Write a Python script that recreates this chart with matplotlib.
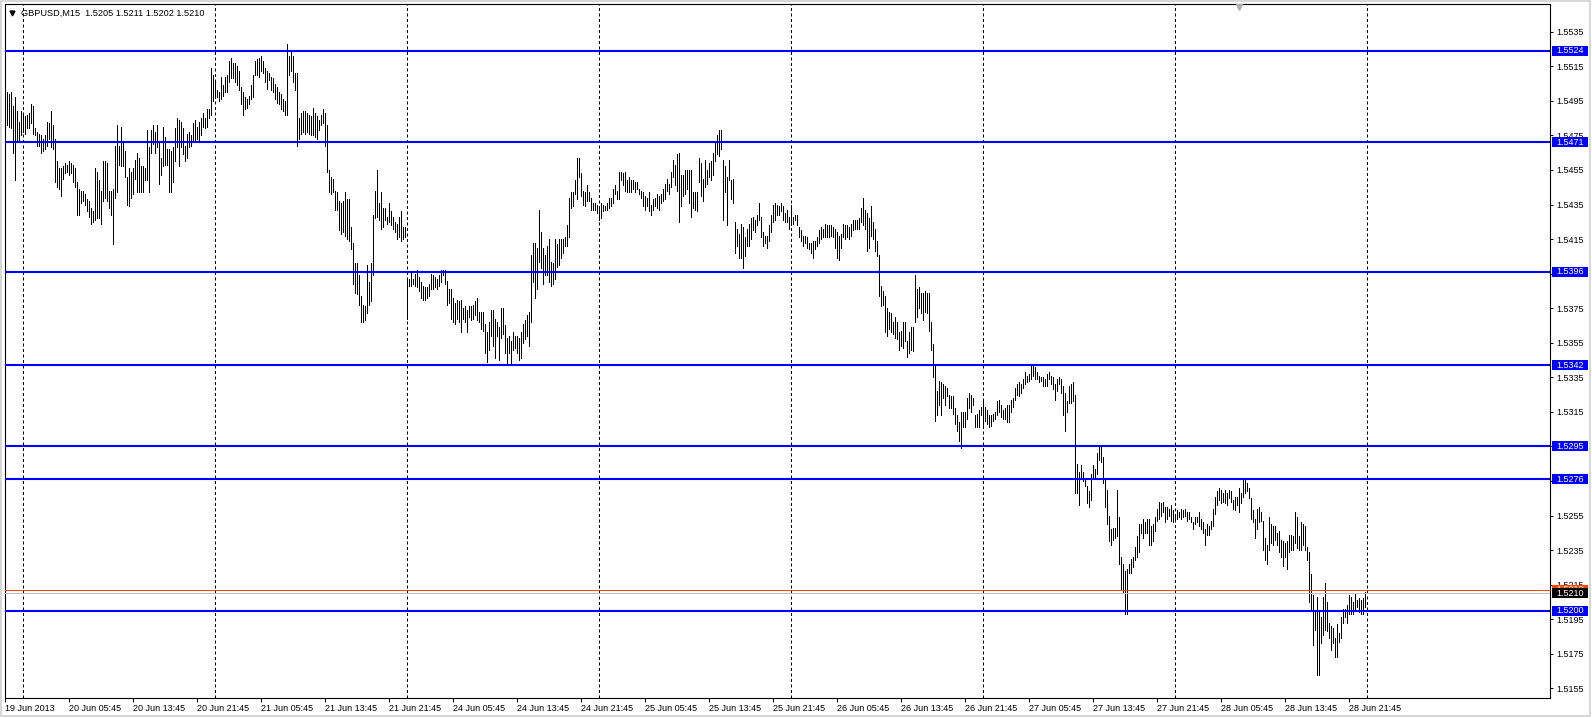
import matplotlib
matplotlib.use("Agg")
import matplotlib.pyplot as plt
from matplotlib.patches import Rectangle

# ---- GBPUSD M15 bars, high / low in pips above 1.5000 ----------------------
jun19_high = [5516, 5500, 5499, 5500, 5492, 5497, 5489, 5483, 5489]
jun19_low = [5479, 5481, 5480, 5479, 5465, 5449, 5472, 5472, 5475]

jun20_high = [
    5487, 5486, 5487, 5488, 5493, 5492, 5479, 5477, 5476, 5475, 5473, 5475,
    5483, 5482, 5489, 5481, 5473, 5460, 5456, 5456, 5457, 5459, 5458, 5460,
    5459, 5458, 5456, 5448, 5444, 5443, 5443, 5441, 5438, 5437, 5433, 5431,
    5456, 5454, 5449, 5443, 5460, 5460, 5459, 5443, 5443, 5444, 5469, 5481,
    5469, 5480, 5472, 5466, 5451, 5456, 5454, 5456, 5461, 5465, 5462, 5457,
    5457, 5456, 5478, 5468, 5478, 5481, 5477, 5481, 5472, 5462, 5480, 5474,
    5467, 5467, 5466, 5468, 5479, 5485, 5484, 5483, 5479, 5469, 5476, 5477,
    5475, 5482, 5484, 5480, 5483, 5485, 5488, 5485, 5490, 5490, 5514, 5510,
]
jun20_low = [
    5477, 5476, 5479, 5479, 5482, 5476, 5475, 5469, 5469, 5465, 5466, 5467,
    5469, 5473, 5468, 5467, 5448, 5445, 5444, 5440, 5450, 5453, 5454, 5452,
    5453, 5448, 5445, 5429, 5429, 5436, 5437, 5435, 5431, 5428, 5424, 5425,
    5426, 5427, 5427, 5424, 5437, 5439, 5437, 5433, 5429, 5412, 5439, 5442,
    5458, 5457, 5457, 5451, 5435, 5434, 5439, 5441, 5450, 5442, 5442, 5442,
    5442, 5449, 5449, 5442, 5465, 5470, 5465, 5468, 5447, 5452, 5457, 5458,
    5458, 5442, 5442, 5448, 5460, 5468, 5457, 5468, 5464, 5460, 5462, 5468,
    5469, 5471, 5472, 5473, 5471, 5475, 5480, 5479, 5480, 5485, 5487, 5495,
]

jun21_high = [
    5506, 5501, 5500, 5509, 5504, 5509, 5510, 5518, 5520, 5517, 5517, 5515,
    5512, 5503, 5500, 5497, 5496, 5498, 5504, 5510, 5518, 5519, 5520, 5521,
    5518, 5514, 5512, 5511, 5509, 5508, 5505, 5503, 5500, 5499, 5496, 5495,
    5528, 5521, 5524, 5521, 5511, 5511, 5485, 5488, 5489, 5489, 5488, 5487,
    5486, 5491, 5488, 5486, 5484, 5487, 5490, 5488, 5481, 5455, 5451, 5450,
    5443, 5442, 5437, 5436, 5437, 5442, 5438, 5438, 5422, 5413, 5401, 5401,
    5394, 5382, 5377, 5376, 5400, 5390, 5401, 5429, 5443, 5455, 5436, 5442,
    5433, 5433, 5428, 5436, 5431, 5428, 5425, 5424, 5428, 5431, 5422, 5422,
]
jun21_low = [
    5497, 5497, 5495, 5496, 5498, 5500, 5500, 5506, 5508, 5508, 5506, 5504,
    5501, 5493, 5487, 5490, 5491, 5493, 5496, 5497, 5510, 5510, 5509, 5512,
    5511, 5506, 5502, 5507, 5501, 5500, 5496, 5494, 5493, 5490, 5489, 5487,
    5487, 5510, 5512, 5506, 5501, 5469, 5473, 5476, 5477, 5476, 5477, 5476,
    5475, 5475, 5474, 5473, 5478, 5481, 5482, 5469, 5454, 5442, 5441, 5442,
    5432, 5432, 5420, 5418, 5419, 5417, 5415, 5414, 5409, 5389, 5384, 5383,
    5377, 5367, 5367, 5368, 5372, 5377, 5379, 5394, 5427, 5428, 5426, 5421,
    5422, 5426, 5424, 5425, 5423, 5421, 5419, 5415, 5416, 5414, 5415, 5416,
]

jun24_high = [
    5392, 5392, 5396, 5392, 5395, 5397, 5393, 5390, 5388, 5387, 5387, 5389,
    5395, 5394, 5393, 5392, 5394, 5397, 5397, 5397, 5391, 5386, 5386, 5381,
    5378, 5380, 5379, 5380, 5375, 5376, 5374, 5376, 5376, 5377, 5379, 5381,
    5373, 5373, 5373, 5366, 5361, 5367, 5374, 5374, 5369, 5367, 5364, 5375,
    5375, 5365, 5358, 5359, 5356, 5361, 5359, 5359, 5358, 5361, 5366, 5368,
    5371, 5373, 5406, 5413, 5413, 5410, 5432, 5419, 5410, 5406, 5411, 5415,
    5402, 5401, 5415, 5412, 5415, 5415, 5415, 5416, 5423, 5439, 5442, 5442,
    5449, 5462, 5462, 5453, 5443, 5442, 5446, 5442, 5439, 5436, 5436, 5435,
]
jun24_low = [
    5369, 5388, 5388, 5389, 5388, 5387, 5385, 5381, 5380, 5380, 5381, 5382,
    5386, 5386, 5387, 5386, 5388, 5390, 5394, 5389, 5377, 5378, 5369, 5367,
    5366, 5369, 5367, 5361, 5369, 5367, 5361, 5370, 5368, 5369, 5371, 5368,
    5367, 5363, 5362, 5349, 5344, 5351, 5359, 5353, 5346, 5359, 5345, 5358,
    5360, 5349, 5342, 5349, 5343, 5351, 5352, 5349, 5345, 5346, 5355, 5357,
    5359, 5353, 5367, 5390, 5381, 5386, 5402, 5398, 5389, 5394, 5394, 5390,
    5388, 5389, 5392, 5399, 5400, 5404, 5407, 5411, 5411, 5416, 5433, 5434,
    5441, 5438, 5451, 5440, 5435, 5434, 5437, 5437, 5432, 5432, 5432, 5430,
]

jun25_high = [
    5434, 5436, 5435, 5434, 5436, 5439, 5439, 5444, 5446, 5443, 5454, 5454,
    5453, 5454, 5449, 5451, 5449, 5449, 5448, 5448, 5444, 5443, 5442, 5440,
    5439, 5442, 5435, 5438, 5439, 5441, 5440, 5441, 5444, 5447, 5450, 5447,
    5454, 5461, 5458, 5464, 5465, 5452, 5452, 5455, 5455, 5455, 5455, 5442,
    5442, 5442, 5462, 5459, 5450, 5461, 5455, 5459, 5460, 5465, 5472, 5475,
    5478, 5478, 5461, 5457, 5451, 5461, 5449, 5450, 5425, 5421, 5418, 5424,
    5422, 5416, 5421, 5424, 5427, 5428, 5426, 5429, 5436, 5428, 5419, 5417,
    5417, 5423, 5429, 5435, 5436, 5435, 5434, 5436, 5434, 5430, 5432, 5428,
]
jun25_low = [
    5426, 5427, 5431, 5432, 5432, 5433, 5434, 5436, 5441, 5438, 5438, 5449,
    5446, 5443, 5442, 5442, 5442, 5444, 5442, 5444, 5441, 5439, 5434, 5432,
    5434, 5431, 5429, 5432, 5434, 5433, 5432, 5436, 5437, 5438, 5443, 5441,
    5445, 5451, 5446, 5443, 5425, 5434, 5440, 5441, 5444, 5436, 5428, 5433,
    5432, 5431, 5448, 5440, 5437, 5445, 5447, 5451, 5449, 5452, 5460, 5464,
    5463, 5467, 5426, 5442, 5423, 5449, 5438, 5436, 5407, 5411, 5404, 5404,
    5398, 5405, 5411, 5411, 5415, 5420, 5419, 5423, 5426, 5416, 5411, 5413,
    5410, 5414, 5419, 5425, 5426, 5429, 5429, 5431, 5426, 5425, 5425, 5421,
]

jun26_high = [
    5435, 5428, 5429, 5429, 5422, 5420, 5417, 5417, 5416, 5413, 5413, 5414,
    5414, 5416, 5420, 5422, 5421, 5424, 5423, 5423, 5423, 5422, 5421, 5419,
    5417, 5418, 5424, 5423, 5423, 5422, 5424, 5426, 5426, 5426, 5427, 5433,
    5439, 5432, 5430, 5427, 5434, 5425, 5421, 5414, 5406, 5388, 5385, 5382,
    5375, 5373, 5372, 5367, 5370, 5367, 5361, 5362, 5367, 5367, 5356, 5361,
    5364, 5364, 5394, 5386, 5387, 5384, 5384, 5385, 5384, 5384, 5367, 5354,
    5342, 5327, 5333, 5332, 5331, 5330, 5329, 5325, 5324, 5324, 5317, 5313,
    5309, 5315, 5315, 5315, 5323, 5326, 5325, 5323, 5313, 5314, 5316, 5318,
]
jun26_low = [
    5423, 5424, 5426, 5423, 5416, 5414, 5411, 5413, 5410, 5409, 5407, 5404,
    5409, 5411, 5413, 5415, 5416, 5416, 5416, 5416, 5417, 5416, 5410, 5404,
    5403, 5410, 5416, 5415, 5416, 5415, 5417, 5420, 5421, 5421, 5421, 5425,
    5423, 5421, 5408, 5410, 5417, 5415, 5408, 5405, 5382, 5376, 5377, 5361,
    5359, 5363, 5361, 5360, 5358, 5357, 5351, 5353, 5352, 5356, 5347, 5349,
    5351, 5350, 5367, 5370, 5375, 5372, 5368, 5373, 5372, 5362, 5351, 5335,
    5310, 5313, 5319, 5313, 5323, 5319, 5324, 5317, 5317, 5314, 5308, 5304,
    5298, 5294, 5306, 5306, 5311, 5317, 5315, 5319, 5306, 5306, 5306, 5313,
]

jun27_high = [
    5322, 5318, 5316, 5313, 5313, 5314, 5315, 5321, 5322, 5319, 5316, 5317,
    5319, 5319, 5322, 5323, 5329, 5331, 5332, 5331, 5334, 5338, 5336, 5337,
    5342, 5342, 5341, 5338, 5336, 5335, 5335, 5334, 5337, 5338, 5336, 5335,
    5331, 5334, 5335, 5334, 5330, 5326, 5321, 5330, 5331, 5332, 5325, 5285,
    5280, 5284, 5280, 5277, 5272, 5269, 5279, 5284, 5282, 5291, 5295, 5296,
    5289, 5276, 5270, 5255, 5247, 5248, 5248, 5270, 5254, 5231, 5227, 5223,
    5224, 5227, 5230, 5231, 5237, 5243, 5250, 5250, 5253, 5251, 5253, 5253,
    5249, 5250, 5254, 5259, 5263, 5262, 5263, 5260, 5260, 5259, 5261, 5258,
]
jun27_low = [
    5307, 5310, 5308, 5306, 5307, 5310, 5311, 5313, 5315, 5312, 5311, 5311,
    5309, 5309, 5315, 5318, 5322, 5325, 5324, 5326, 5329, 5331, 5332, 5333,
    5334, 5336, 5334, 5334, 5332, 5333, 5330, 5330, 5330, 5334, 5331, 5328,
    5322, 5327, 5331, 5326, 5313, 5304, 5315, 5320, 5320, 5321, 5268, 5268,
    5261, 5277, 5275, 5272, 5262, 5260, 5264, 5276, 5277, 5279, 5287, 5286,
    5274, 5260, 5250, 5240, 5238, 5241, 5242, 5243, 5227, 5212, 5210, 5198,
    5198, 5222, 5222, 5225, 5229, 5231, 5234, 5245, 5242, 5245, 5245, 5238,
    5238, 5240, 5246, 5252, 5253, 5255, 5257, 5251, 5253, 5255, 5252, 5251,
]

jun28_high = [
    5256, 5258, 5257, 5259, 5258, 5259, 5257, 5257, 5254, 5251, 5254, 5254,
    5257, 5253, 5251, 5247, 5250, 5249, 5252, 5259, 5266, 5269, 5271, 5270,
    5268, 5270, 5268, 5270, 5269, 5264, 5266, 5266, 5271, 5268, 5276, 5276,
    5274, 5271, 5265, 5258, 5253, 5259, 5260, 5257, 5252, 5242, 5238, 5254,
    5250, 5249, 5249, 5245, 5246, 5241, 5240, 5239, 5240, 5244, 5244, 5243,
    5257, 5254, 5243, 5251, 5250, 5249, 5237, 5234, 5221, 5209, 5199, 5208,
    5200, 5196, 5208, 5216, 5205, 5193, 5191, 5190, 5184, 5192, 5187, 5196,
    5201, 5201, 5203, 5209, 5208, 5205, 5210, 5206, 5207, 5206, 5207, 5211,
]
jun28_low = [
    5252, 5253, 5254, 5253, 5254, 5255, 5252, 5253, 5251, 5247, 5250, 5251,
    5249, 5247, 5245, 5238, 5244, 5244, 5247, 5249, 5256, 5261, 5264, 5262,
    5263, 5262, 5261, 5265, 5263, 5259, 5258, 5261, 5257, 5262, 5266, 5268,
    5269, 5265, 5253, 5251, 5242, 5247, 5251, 5252, 5235, 5229, 5227, 5235,
    5239, 5238, 5241, 5238, 5234, 5231, 5226, 5231, 5224, 5234, 5235, 5235,
    5239, 5236, 5235, 5235, 5238, 5235, 5229, 5205, 5200, 5180, 5189, 5163,
    5163, 5181, 5186, 5189, 5188, 5184, 5177, 5181, 5173, 5173, 5182, 5184,
    5193, 5196, 5193, 5198, 5198, 5198, 5200, 5202, 5199, 5198, 5198, 5202,
]

time_labels = [
    "19 Jun 2013", "20 Jun 05:45", "20 Jun 13:45", "20 Jun 21:45",
    "21 Jun 05:45", "21 Jun 13:45", "21 Jun 21:45", "24 Jun 05:45",
    "24 Jun 13:45", "24 Jun 21:45", "25 Jun 05:45", "25 Jun 13:45",
    "25 Jun 21:45", "26 Jun 05:45", "26 Jun 13:45", "26 Jun 21:45",
    "27 Jun 05:45", "27 Jun 13:45", "27 Jun 21:45", "28 Jun 05:45",
    "28 Jun 13:45", "28 Jun 21:45",
]
levels = [1.5524, 1.5471, 1.5396, 1.5342, 1.5295, 1.5276, 1.5200]
bid, ask = 1.5210, 1.5212
last_ohlc = [1.5205, 1.5211, 1.5202, 1.5210]
price_ticks = [1.5155 + 0.0020 * k for k in range(20)]

days_high = [jun19_high, jun20_high, jun21_high, jun24_high,
             jun25_high, jun26_high, jun27_high, jun28_high]
days_low = [jun19_low, jun20_low, jun21_low, jun24_low,
            jun25_low, jun26_low, jun27_low, jun28_low]

highs = [1 + v / 10000 for d in days_high for v in d]
lows = [1 + v / 10000 for d in days_low for v in d]
xs = list(range(len(highs)))

day_starts = []
n = 0
for d in days_high:
    n += len(d)
    day_starts.append(n)

# ---- figure layout in screen pixels ------------------------------------
W, H = 1592, 718
LEFT, RIGHT, TOP, BOTTOM = 4.5, 1550, 4, 698
PX_PER_PRICE = 17280.0

plt.rcParams["font.family"] = ["Liberation Sans", "DejaVu Sans"]
fig = plt.figure(figsize=(W / 100, H / 100), dpi=100)
fig.patch.set_facecolor("white")
ax = fig.add_axes([LEFT / W, (H - BOTTOM) / H, (RIGHT - LEFT) / W, (BOTTOM - TOP) / H])

ax.set_xlim((LEFT - 5) / 2, (RIGHT - 5) / 2)
ax.set_ylim(1.5535 - (BOTTOM - 31.7) / PX_PER_PRICE, 1.5535 + (31.7 - TOP) / PX_PER_PRICE)

for s in ax.spines.values():
    s.set_linewidth(0.8)
    s.set_color("black")

# day separators
for d in day_starts:
    ax.axvline(d, color="black", lw=0.72, linestyle=(0, (3, 2.5)), zorder=1)

# support / resistance levels
for lv in levels:
    ax.axhline(lv, color="#0000ff", lw=1.5, zorder=3)
ax.axhline(ask, color="#ff4500", lw=0.72, zorder=3)
ax.axhline(bid, color="#c0c0c0", lw=0.72, zorder=3)

# bars
ax.vlines(xs, lows, highs, colors="black", linewidth=0.72, antialiased=False, zorder=2)

# axes ticks
ax.yaxis.tick_right()
ax.set_yticks(price_ticks)
ax.set_yticklabels([f"{t:.4f}" for t in price_ticks])
ax.tick_params(axis="y", direction="out", length=2.5, width=0.7, pad=1.8,
               labelsize=6.5, colors="black")
ax.set_xticks([32 * k for k in range(len(time_labels))])
ax.set_xticklabels(time_labels)
ax.tick_params(axis="x", direction="out", length=3, width=0.7, pad=1.2,
               labelsize=6.5, colors="black")
for lab in ax.get_xticklabels():
    lab.set_ha("left")

# price boxes on the right axis
ytr = ax.get_yaxis_transform()
bx0 = (1552 - LEFT) / (RIGHT - LEFT)
bw = 36 / (RIGHT - LEFT)
bh = 10 / PX_PER_PRICE
bxc = (1570 - LEFT) / (RIGHT - LEFT)


def price_box(price, face, z):
    ax.add_patch(Rectangle((bx0, price - bh / 2), bw, bh, transform=ytr,
                           facecolor=face, edgecolor="none", clip_on=False, zorder=z))
    ax.text(bxc, price, f"{price:.4f}", transform=ytr, color="white", fontsize=6.5,
            ha="center", va="center", clip_on=False, zorder=z + 0.1)


for lv in levels:
    price_box(lv, "#0000ff", 6)
price_box(ask, "#ff4500", 6)
price_box(bid, "black", 7)

# header
hx = (20.7 - LEFT) / (RIGHT - LEFT)
hy = (BOTTOM - 13.3) / (BOTTOM - TOP)
ax.plot([(12 - LEFT) / (RIGHT - LEFT)], [hy], marker="v", color="black",
        markersize=3.5, transform=ax.transAxes, clip_on=False, zorder=8)
ax.text(hx, hy, "GBPUSD,M15  " + " ".join(f"{v:.4f}" for v in last_ohlc),
        transform=ax.transAxes, fontsize=6.6, ha="left", va="center", zorder=8)

# chart shift marker
ax.plot([(1239 - LEFT) / (RIGHT - LEFT)], [0.995], marker="v", color="#b0b0b0",
        markersize=4, transform=ax.transAxes, clip_on=False, zorder=8)

# window border
fig.add_artist(Rectangle((0.5 / W, 2 / H), 1589.5 / W, 715.5 / H, transform=fig.transFigure,
                         facecolor="none", edgecolor="#d0d0d0", lw=1.2))

fig.savefig("out.png", dpi=100)
